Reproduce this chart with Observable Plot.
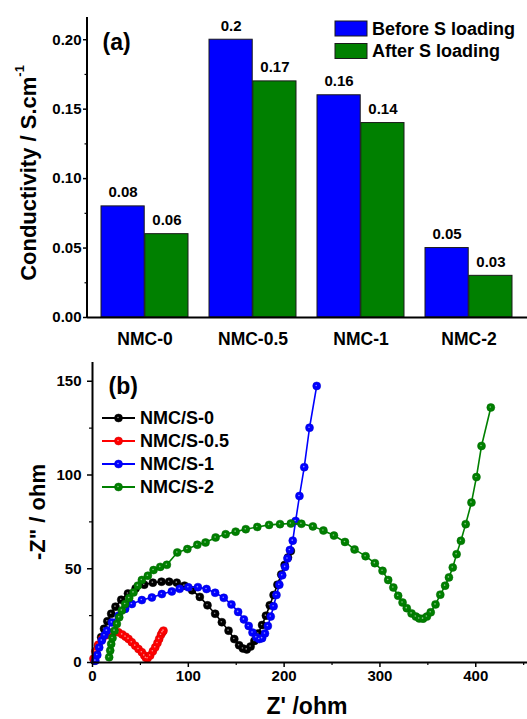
<!DOCTYPE html>
<html><head><meta charset="utf-8">
<script src="https://cdn.jsdelivr.net/npm/d3@7"></script>
<script src="https://cdn.jsdelivr.net/npm/@observablehq/plot@0.6"></script>
<style>
body{margin:0;background:#fff;width:527px;height:719px;overflow:hidden}
#a,#b{display:block;line-height:0}
svg{display:block}
</style></head><body>
<div id="a"></div><div id="b"></div>
<script>
// ---------- Panel (a) data ----------
const categories = ["NMC-0", "NMC-0.5", "NMC-1", "NMC-2"];
const before = [0.08, 0.20, 0.16, 0.05];
const after = [0.06, 0.17, 0.14, 0.03];
const beforeLabels = ["0.08", "0.2", "0.16", "0.05"];
const afterLabels = ["0.06", "0.17", "0.14", "0.03"];
const seriesA = ["Before S loading", "After S loading"];
const yTicksA = [0, 0.05, 0.10, 0.15, 0.20];
const yMinorA = [0.025, 0.075, 0.125, 0.175];

// ---------- Panel (b) data ----------
const seriesB = ["NMC/S-0", "NMC/S-0.5", "NMC/S-1", "NMC/S-2"];
const s0x = [2,4,6,9,12,15.5,19.5,24,30,37,45,54,63,72,80,88,96,104,112,120,128,135,142,148,153,157,161,165,169,173,177,181,185,189,193,197,200.5,204,207];
const s0y = [1,5,9,13.5,18,22,26,29.8,33.5,36.8,39.5,41.5,42.6,43.1,43.1,42.6,41,38.5,35,30.5,26,21.5,17,12.5,9.2,7.5,7,8.5,11.5,15.5,20,25,30.5,36,41.5,47,52,56,59.5];
const s05x = [1,3,6,10,14,19,23,27,31,34.5,37.6,41,44.6,48,51.5,54,55.7,57.5,60.2,63,65.5,67.8,69.6,71.5,73,74.1];
const s05y = [2,6,9.5,12.5,14.5,15.8,16.3,16.1,15,13.8,12.6,10.8,9,7.2,5.5,3.8,2.5,2.3,3.7,6,8.1,10.4,12.6,14.8,16.2,17];
const s1x = [3,5,7,9.7,12.5,15,20.2,27.2,34.1,41.1,51.5,62,72.4,82.8,91,100,110,119,128,137,145,152,158,163,167,171,174,177,180,183,186,189,192,195,198,201,203.5,206,209,212,216,221,226.5,234];
const s1y = [1,4,8,11.7,14.5,17,21.4,25,28.6,31.2,33.3,34.7,36.5,37.9,39.3,40.1,40.2,39.2,37.2,34.5,31,27,23,19.5,16,13.5,12.5,13,15.5,19.5,24.5,30,36,41.5,46.5,51,55.5,60,65,75.5,88.8,104.2,125.2,147.5];
const s2x = [17.4,18.5,19.5,20.9,23,25.4,27.9,30.6,34.1,38.3,42.8,47.3,51.5,57.8,63.7,70.7,77.6,88.5,99,109.4,118,128.5,139,149.4,160,172,184.3,195.7,207,218,230,241,252,263.5,273.5,285,294.7,302.7,308.6,314,319,323.6,328,333,337.5,341,345,349,353,358,363,368,372,376,380,384.5,389.5,395.5,400.7,406,415.7];
const s2y = [2.8,6.4,9.9,13.1,17,20.6,24.1,27.7,31.2,34.4,37.4,41,44,46.3,49.3,51,52.1,58.7,60.5,62.8,64,66.7,68.4,69.8,71.1,72.3,73.4,73.8,74.1,74,72.6,70.4,67.7,64.3,60.3,56.7,53,48.9,44,40,35.6,32,29,26.2,24.5,23.5,23.4,24.5,26.8,31,36.2,41,45.4,50.7,57.8,64.9,73.8,85.3,98.9,115.5,136];
const xTicksB = [0, 100, 200, 300, 400];
const xMinorB = [50, 150, 250, 350, 450];
const yTicksB = [0, 50, 100, 150];
const yMinorB = [25, 75, 125];

const font = "'Liberation Sans', Arial, Helvetica, sans-serif";
const W = 527;
const blue = "#0000ff", green = "#008000";

// ---------- Panel (a) ----------
const HA = 352, mLA = 87, mRA = 0;
const pIn = 0.19, pOut = 0.13;
const step = (W - mLA - mRA) / (categories.length - pIn + 2 * pOut);
const half = step * (1 - pIn) / 2;
const rowsA = categories.map((c, i) => ({cat: c, before: before[i], after: after[i], bl: beforeLabels[i], al: afterLabels[i]}));

const plotA = Plot.plot({
  width: W, height: HA,
  marginTop: 17, marginRight: mRA, marginBottom: 35, marginLeft: mLA,
  style: {fontFamily: font, fontWeight: "bold", fontSize: "15px", color: "#000", background: "#fff"},
  x: {domain: categories, paddingInner: pIn, paddingOuter: pOut, label: null},
  y: {domain: [0, 0.216], label: null},
  marks: [
    Plot.barY(rowsA, {x: "cat", y: "before", fill: blue, stroke: "#1a1a1a", strokeWidth: 1, insetRight: half}),
    Plot.barY(rowsA, {x: "cat", y: "after", fill: green, stroke: "#1a1a1a", strokeWidth: 1, insetLeft: half}),
    Plot.text(rowsA, {x: "cat", y: "before", text: "bl", dx: -half / 2, dy: -14, fontSize: 15}),
    Plot.text(rowsA, {x: "cat", y: "after", text: "al", dx: half / 2, dy: -14, fontSize: 15}),
    Plot.axisY({ticks: yTicksA, tickSize: 4, tickPadding: 2, tickFormat: d3.format(".2f"), label: null, strokeWidth: 1.5}),
    Plot.axisY({ticks: yMinorA, tickSize: 2.5, tickFormat: () => "", label: null, strokeWidth: 1.2}),
    Plot.axisX({tickSize: 0, tickPadding: 15, fontSize: 17.5, label: null}),
    Plot.ruleY([0], {strokeWidth: 2}),
    Plot.text(["(a)"], {frameAnchor: "top-left", dx: 15, dy: 16, fontSize: 23, textAnchor: "start"})
  ]
});
document.getElementById("a").appendChild(plotA);
{
  const svg = d3.select(plotA);
  svg.append("line").attr("x1", mLA).attr("x2", mLA).attr("y1", 17).attr("y2", HA - 35)
    .attr("stroke", "#000").attr("stroke-width", 2);
  const leg = [{label: seriesA[0], color: blue, y: 21}, {label: seriesA[1], color: green, y: 43.5}];
  leg.forEach(d => {
    svg.append("rect").attr("x", 335).attr("y", d.y).attr("width", 32).attr("height", 15)
      .attr("fill", d.color).attr("stroke", "#1a1a1a").attr("stroke-width", 1);
    svg.append("text").attr("x", 372).attr("y", d.y + 7.5).attr("dominant-baseline", "central")
      .attr("text-anchor", "start")
      .attr("font-size", 18).attr("font-weight", "bold").attr("font-family", font).text(d.label);
  });
  const t = svg.append("text").attr("transform", "translate(28,173) rotate(-90)")
    .attr("text-anchor", "middle").attr("dominant-baseline", "central")
    .attr("font-size", 22).attr("font-weight", "bold").attr("font-family", font);
  t.append("tspan").text("Conductivity / S.cm");
  t.append("tspan").attr("font-size", 13).attr("dy", -9).text("-1");
}

// ---------- Panel (b) ----------
const HB = 367, mLB = 92, mTB = 10, mBB = 57;
const colorsB = ["#000000", "#ff0000", blue, green];
const xsB = [s0x, s05x, s1x, s2x];
const ysB = [s0y, s05y, s1y, s2y];
const marksB = [];
seriesB.forEach((name, k) => {
  const rows = xsB[k].map((x, i) => ({x, y: ysB[k][i]}));
  const c = colorsB[k];
  marksB.push(Plot.line(rows, {x: "x", y: "y", stroke: c, strokeWidth: 1.6}));
  marksB.push(Plot.dot(rows, {x: "x", y: "y", r: 4, fill: c, stroke: d3.color(c).darker(0.6).formatHex(), strokeWidth: 0.5}));
  marksB.push(Plot.dot(rows, {x: "x", y: "y", r: 0.8, fill: "#fff", fillOpacity: 0.55, dx: -0.5, dy: -0.5}));
});

const plotB = Plot.plot({
  width: W, height: HB,
  marginTop: mTB, marginRight: 0, marginBottom: mBB, marginLeft: mLB,
  style: {fontFamily: font, fontWeight: "bold", fontSize: "15px", color: "#000", background: "#fff"},
  x: {domain: [0, 454], label: null},
  y: {domain: [0, 160], label: null},
  marks: [
    ...marksB,
    Plot.axisX({ticks: xTicksB, tickSize: 5, tickPadding: 3, label: null, strokeWidth: 1.5}),
    Plot.axisX({ticks: xMinorB, tickSize: 3, tickFormat: () => "", label: null, strokeWidth: 1.2}),
    Plot.axisY({ticks: yTicksB, tickSize: 5, tickPadding: 6, label: null, strokeWidth: 1.5}),
    Plot.axisY({ticks: yMinorB, tickSize: 3, tickFormat: () => "", label: null, strokeWidth: 1.2}),
    Plot.ruleY([0], {strokeWidth: 2}),
    Plot.ruleX([0], {strokeWidth: 2}),
    Plot.text(["(b)"], {frameAnchor: "top-left", dx: 16, dy: 15, fontSize: 23, textAnchor: "start"})
  ]
});
document.getElementById("b").appendChild(plotB);
{
  const svg = d3.select(plotB);
  seriesB.forEach((name, k) => {
    const y = 66 + 23 * k, c = colorsB[k];
    svg.append("line").attr("x1", 102).attr("x2", 135).attr("y1", y).attr("y2", y)
      .attr("stroke", c).attr("stroke-width", 1.8);
    svg.append("circle").attr("cx", 118.5).attr("cy", y).attr("r", 4)
      .attr("fill", c).attr("stroke", d3.color(c).darker(0.6).formatHex()).attr("stroke-width", 0.5);
    svg.append("circle").attr("cx", 118).attr("cy", y - 0.5).attr("r", 0.8).attr("fill", "#fff").attr("fill-opacity", 0.55);
    svg.append("text").attr("x", 140).attr("y", y).attr("dominant-baseline", "central")
      .attr("text-anchor", "start")
      .attr("font-size", 18).attr("font-weight", "bold").attr("font-family", font).text(name);
  });
  svg.append("text").attr("transform", "translate(37,160) rotate(-90)")
    .attr("text-anchor", "middle").attr("dominant-baseline", "central")
    .attr("font-size", 22).attr("font-weight", "bold").attr("font-family", font).text('-Z" / ohm');
  svg.append("text").attr("x", 307).attr("y", 354)
    .attr("text-anchor", "middle").attr("dominant-baseline", "central")
    .attr("font-size", 23).attr("font-weight", "bold").attr("font-family", font).text("Z' /ohm");
}
</script>
</body></html>
